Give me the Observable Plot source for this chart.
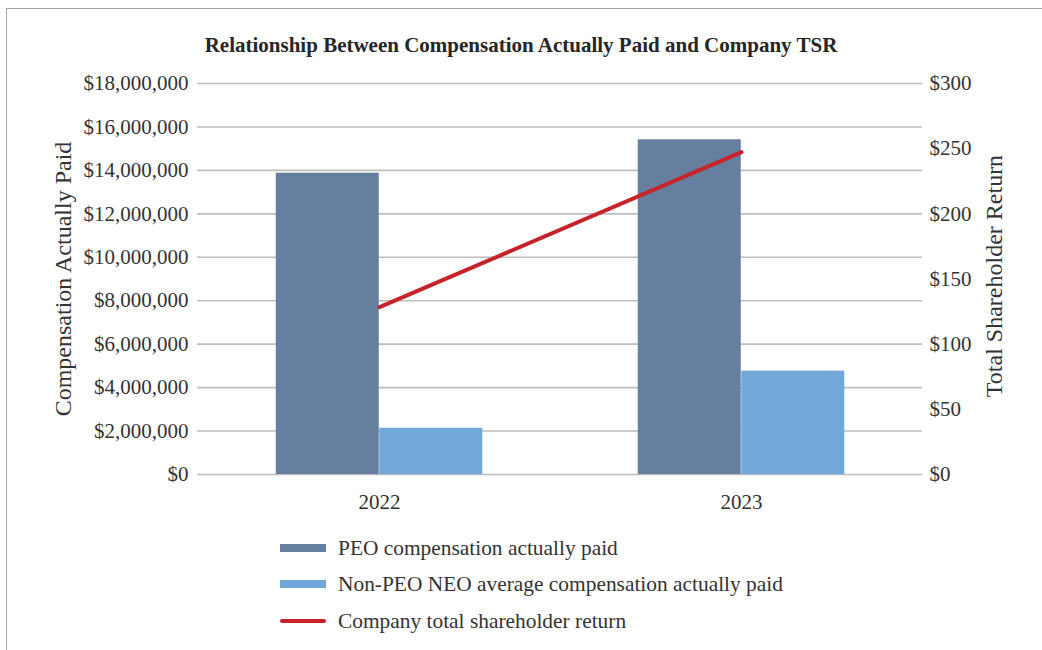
<!DOCTYPE html>
<html>
<head>
<meta charset="utf-8">
<script src="https://cdn.jsdelivr.net/npm/d3@7"></script>
<script src="https://cdn.jsdelivr.net/npm/@observablehq/plot@0.6"></script>
<style>
  html, body { margin: 0; padding: 0; background: #fff; }
  #wrap { position: relative; width: 1042px; height: 650px; overflow: hidden; font-family: "Liberation Serif", "DejaVu Serif", serif; color: #333; }
  #frame { position: absolute; left: 6px; top: 8px; width: 1100px; height: 700px; border: 1.5px solid #a6a6a6; box-sizing: border-box; }
  #title { position: absolute; left: 0; width: 1042px; top: 33px; text-align: center; font-weight: bold; font-size: 21px; line-height: 24px; color: #262626; }
  #chart { position: absolute; left: 0; top: 60px; }
  .leg { position: absolute; left: 280px; font-size: 21.4px; color: #333; display: flex; align-items: center; white-space: nowrap; }
  .sw { width: 46px; margin-right: 12px; }
</style>
</head>
<body>
<div id="wrap">
  <div id="frame"></div>
  <div id="title"></div>
  <div id="chart"></div>
  <div id="legend"></div>
</div>
<script>
const titleText = "Relationship Between Compensation Actually Paid and Company TSR";
const years = ["2022", "2023"];
const peoPaid = [13870000, 15410000];
const nonPeoPaid = [2130000, 4760000];
const tsr = [128.4, 247.3];
const leftTicks = [0, 2000000, 4000000, 6000000, 8000000, 10000000, 12000000, 14000000, 16000000, 18000000];
const rightTicks = [0, 50, 100, 150, 200, 250, 300];
const leftLabel = "Compensation Actually Paid";
const rightLabel = "Total Shareholder Return";
const seriesNames = ["PEO compensation actually paid", "Non-PEO NEO average compensation actually paid", "Company total shareholder return"];

const colPEO = "#667f9e";
const colNon = "#72a7da";
const colLine = "#c8232b";

const yMax = 18000000;
const tsrMax = 300;
const k = yMax / tsrMax; // maps TSR onto compensation scale

document.getElementById("title").textContent = titleText;

const peoData = years.map((y, i) => ({year: y, v: peoPaid[i]}));
const nonData = years.map((y, i) => ({year: y, v: nonPeoPaid[i]}));
const tsrData = years.map((y, i) => ({year: y, v: tsr[i]}));

const W = 1042, H = 460;
const mL = 197, mR = 120, mT = 23, mB = 46;
const band = (W - mL - mR) / years.length;
const half = 103.5;
const inOut = band / 2 - half;

const fmtMoney = d3.format(",");

const plot = Plot.plot({
  width: W,
  height: H,
  marginLeft: mL,
  marginRight: mR,
  marginTop: mT,
  marginBottom: mB,
  style: {fontFamily: "Liberation Serif, serif", fontSize: "21px", color: "#333", background: "transparent"},
  x: {domain: years, padding: 0, label: null},
  y: {domain: [0, yMax], label: null},
  marks: [
    Plot.ruleY(leftTicks, {stroke: "#bdbdbd", strokeWidth: 1.6}),
    Plot.barY(peoData, {x: "year", y: "v", fill: colPEO, insetLeft: inOut, insetRight: band / 2}),
    Plot.barY(nonData, {x: "year", y: "v", fill: colNon, insetLeft: band / 2, insetRight: inOut}),
    Plot.line(tsrData, {x: "year", y: d => d.v * k, stroke: colLine, strokeWidth: 4, strokeLinecap: "round"}),
    Plot.axisY(leftTicks, {anchor: "left", tickSize: 0, tickPadding: 9, tickFormat: d => "$" + fmtMoney(d), label: null, fill: "#333"}),
    Plot.axisY(rightTicks.map(t => t * k), {anchor: "right", tickSize: 0, tickPadding: 7, tickFormat: d => "$" + Math.round(d / k), label: null, fill: "#333"}),
    Plot.axisX({tickSize: 0, tickPadding: 20, label: null, fill: "#333"}),
    Plot.text([leftLabel], {frameAnchor: "left", dx: -134, rotate: -90, textAnchor: "middle", text: d => d, fontSize: 24, fill: "#333"}),
    Plot.text([rightLabel], {frameAnchor: "right", dx: 72, dy: -3, rotate: -90, textAnchor: "middle", text: d => d, fontSize: 24, fill: "#333"})
  ]
});
document.getElementById("chart").appendChild(plot);

const legend = document.getElementById("legend");
const rowsY = [548, 584, 621];
seriesNames.forEach((name, i) => {
  const row = document.createElement("div");
  row.className = "leg";
  row.style.top = (rowsY[i] - 12) + "px";
  row.style.height = "24px";
  const sw = document.createElement("div");
  sw.className = "sw";
  if (i < 2) { sw.style.height = "8px"; sw.style.background = i === 0 ? colPEO : colNon; }
  else { sw.style.height = "4px"; sw.style.background = colLine; sw.style.borderRadius = "2px"; }
  const t = document.createElement("span");
  t.textContent = name;
  row.appendChild(sw);
  row.appendChild(t);
  legend.appendChild(row);
});
</script>
</body>
</html>
